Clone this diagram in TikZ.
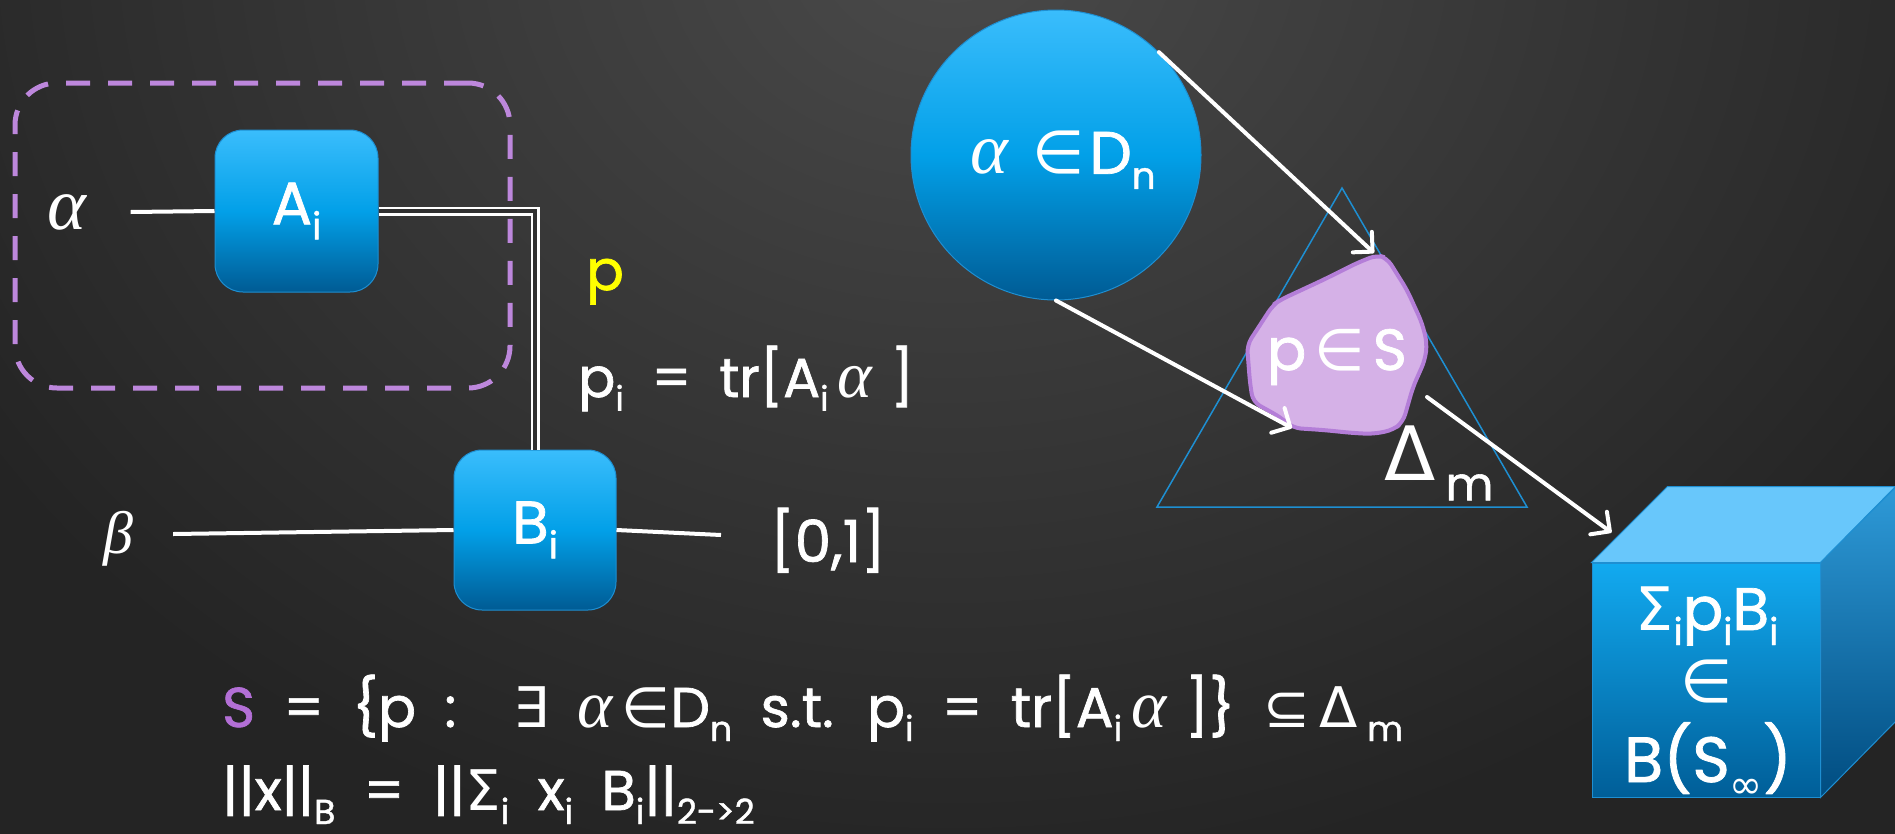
\documentclass[tikz,border=0pt]{standalone}
\usepackage{fontspec}
\setmainfont{Poppins}[WordSpace=1.9, FakeBold=1.2]
\newfontfamily\symf{DejaVu Sans}
\newfontfamily\grkf{Liberation Serif}
\usepackage{graphicx}
\usetikzlibrary{arrows.meta,calc}

\definecolor{bgdark}{HTML}{242424}
\definecolor{bglight}{HTML}{4A4A4A}
\definecolor{boxtop}{HTML}{3ABDFC}
\definecolor{boxmid}{HTML}{02A0E8}
\definecolor{boxbot}{HTML}{005B94}
\definecolor{boxline}{HTML}{1E8FD2}
\definecolor{lav}{HTML}{BD87DC}
\definecolor{blobfill}{HTML}{D5B1E7}
\definecolor{blobline}{HTML}{B47ED8}
\definecolor{spurple}{HTML}{B36FD6}
\definecolor{pyellow}{HTML}{FFFF00}
\definecolor{cubetopc}{HTML}{68C7FB}
\definecolor{cubefrtop}{HTML}{12AAF0}
\definecolor{cubefrbot}{HTML}{005E98}
\definecolor{cubesidetop}{HTML}{2E9AD8}
\definecolor{cubesidebot}{HTML}{004C80}
\definecolor{dblgap}{HTML}{303030}

\newcommand{\sbs}[1]{\raisebox{-0.25em}{\scalebox{0.62}{#1}}}
\newcommand{\sy}[1]{{\symf #1}}
\newcommand{\fs}[1]{\fontsize{#1}{#1}\selectfont}
\newcommand{\ga}{\scalebox{1.2}{\grkf\itshape α}}

\begin{document}
\begin{tikzpicture}[x=1pt,y=-1pt,
  every node/.style={text=white, inner sep=0pt},
  gatebox/.style={rounded corners=28pt, top color=boxtop, bottom color=boxbot, middle color=boxmid,
    draw=boxline, line width=1pt, minimum width=163pt, minimum height=162pt, font=\fs{60}},
  wire/.style={white, line width=4pt},
  arr/.style={white, line width=4pt, line cap=round, -{Straight Barb[length=14pt,width=28pt,round]}},
  txt/.style={font=\fs{56}, anchor=base west}
]
% background
\useasboundingbox (0,0) rectangle (1895,833);
\fill[bgdark] (-5,-5) rectangle (1900,838);
\begin{scope}
  \clip (-5,-5) rectangle (1900,838);
  \shade[inner color=bglight, outer color=bgdark] (950,-60) ellipse [x radius=1150pt, y radius=950pt];
\end{scope}

% left circuit
\node[font=\fs{74}] (alpha) at (67,212) {{\grkf\itshape α}};
\node[font=\fs{60}] (beta) at (118,539) {{\grkf\itshape β}};
\node[gatebox] (A) at (296.5,211) {A\sbs{i}};
\node[gatebox, minimum width=162pt, minimum height=160pt] (B) at (535,530) {B\sbs{i}};
\node[font=\fs{58}, anchor=base west] (out) at (770,562) {[0,1]};

\draw[wire] ([xshift=44pt,yshift=0pt]alpha.east) -- (A.west);
\draw[wire] ([xshift=40pt,yshift=5pt]beta.east) -- (B.west);
\draw[wire] (B.east) -- ([xshift=-49pt,yshift=27pt]out.base west);
\draw[white, line width=2.4pt, double=dblgap, double distance=4.2pt] (A.east) -| (B.north);

\node[draw=lav, line width=5pt, dash pattern=on 24pt off 18pt, rounded corners=42pt,
      minimum width=495pt, minimum height=305pt] (grp) at (262.5,235.5) {};

\node[font=\fs{56}, text=pyellow, anchor=base] (plab) at (605,290) {p};
\node[txt, font=\fs{55}] (pdef) at (578,397) {p\sbs{i} = tr[A\sbs{i}\,\ga\,\,]};

% formulas
\node[txt] (sdef) at (222,727) {{\color{spurple}S} = \{p :\ \ \sy{∃}\ \ga\,\sy{∈}D\sbs{n} s.t. p\sbs{i} = tr[A\sbs{i}\,\ga\,\,]\} \sy{⊆}\,\sy{Δ}\,\sbs{m}};
\node[txt] (norm) at (222,810) {||x||\sbs{B} = ||\sy{Σ}\sbs{i} x\sbs{i} B\sbs{i}||\sbs{2->2}};

% right part
\draw[boxline, line width=1.5pt] (1342,188) -- (1527,507) -- (1157,507) -- cycle;
\draw[blobline, fill=blobfill, line width=4pt, rounded corners=8pt]
  (1377,255) -- (1387,258) -- (1407,290) -- (1422,323) -- (1427,343) -- (1425,360)
  -- (1413,387) -- (1403,422) -- (1393,430) -- (1373,434) -- (1353,433) -- (1323,430)
  -- (1293,428) -- (1280,417) -- (1253,402) -- (1250,383) -- (1247,345) -- (1260,325)
  -- (1273,305) -- (1280,300) -- (1323,280) -- (1357,263) -- cycle;
\coordinate (stop) at (1374,253);
\coordinate (sbot) at (1292,428);
\coordinate (sright) at (1427,397);
\node[font=\fs{58}, anchor=base] (ptxt) at (1337,370) {p\hspace{8pt}\sy{∈}\hspace{8pt}S};

\node[circle, minimum size=290pt, top color=boxtop, bottom color=boxbot, middle color=boxmid,
      draw=boxline, line width=1pt, font=\fs{60}] (D) at (1056,155) {};
\node[font=\fs{60}] (dtxt) at (1063,160) {\ga\hspace{24pt}\sy{∈}\hspace{5pt}D\sbs{n}};

\node[font=\fs{75}, anchor=base west] (delta) at (1384,480) {\sy{Δ}\hspace{10pt}\raisebox{-0.27em}{\scalebox{0.62}{m}}};

% cube
\node[minimum width=228pt, minimum height=234pt, top color=cubefrtop, bottom color=cubefrbot,
      draw=boxline, line width=1pt] (cube) at (1706,680) {};
\filldraw[fill=cubetopc, draw=boxline, line width=1pt] (cube.north west) -- ++(76,-76) -- ++(228,0) -- (cube.north east) -- cycle;
\shade[top color=cubesidetop, bottom color=cubesidebot, draw=boxline, line width=1pt]
  (cube.north east) -- ++(76,-76) -- ++(0,234) -- (cube.south east) -- cycle;
\node[font=\fs{60}, anchor=base] (c1) at (1707,630) {\sy{Σ}\sbs{i}p\sbs{i}B\sbs{i}};
\node[font=\fs{60}] (c2) at (1707,681) {\sy{∈}};
\node[font=\fs{64}, anchor=base] (c3) at (1708,782) {B(S\sbs{\sy{∞}})};

% arrows
\draw[arr] (D.45) -- (stop);
\draw[arr] (D.south) -- (sbot);
\draw[arr] (sright) -- ([xshift=20pt,yshift=30pt]cube.north west);
\end{tikzpicture}
\end{document}
